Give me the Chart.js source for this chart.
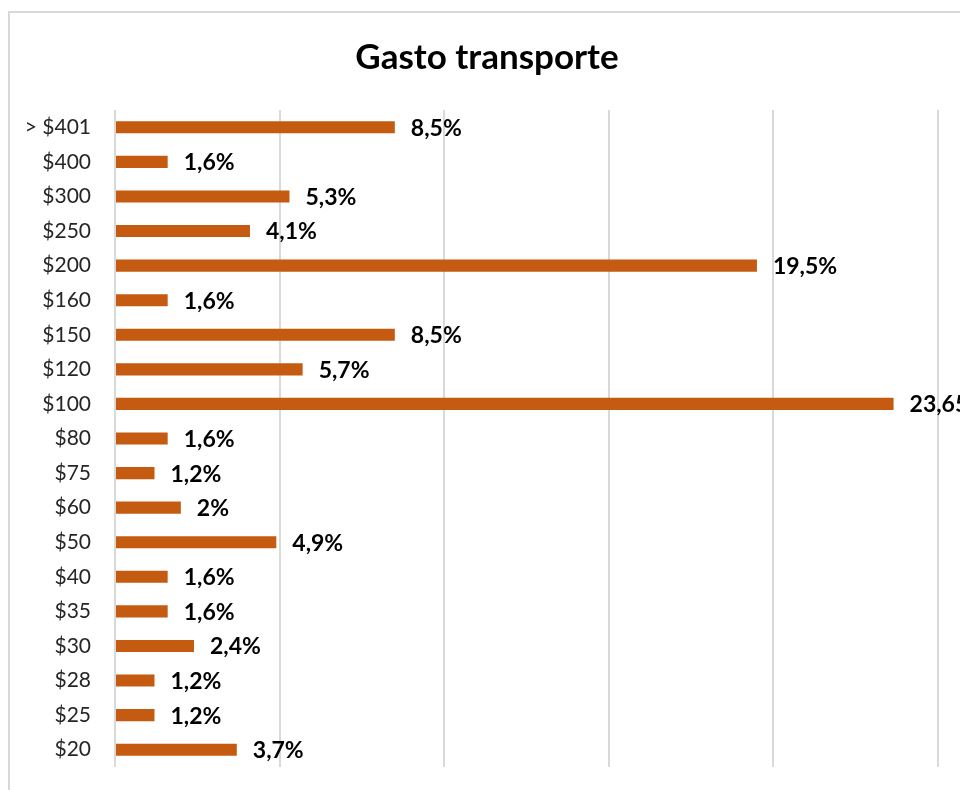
<!DOCTYPE html>
<html>
<head>
<meta charset="utf-8">
<script src="https://cdn.jsdelivr.net/npm/chart.js@4"></script>
<style>
  html, body { margin: 0; padding: 0; background: #fff; overflow: hidden; }
  canvas { display: block; }
</style>
</head>
<body>
<canvas id="myChart" width="960" height="790"></canvas>
<script>
// categories (top to bottom) and percentages
const rangos = ["> $401", "$400", "$300", "$250", "$200", "$160", "$150", "$120", "$100",
  "$80", "$75", "$60", "$50", "$40", "$35", "$30", "$28", "$25", "$20"];
const porcentajes = [8.5, 1.6, 5.3, 4.1, 19.5, 1.6, 8.5, 5.7, 23.65,
  1.6, 1.2, 2, 4.9, 1.6, 1.6, 2.4, 1.2, 1.2, 3.7];
const titulo = "Gasto transporte";

const fontFam = "Lato, 'Open Sans', sans-serif";

// chart frame and title like the Excel chart box
const frame = {
  id: "frame",
  beforeDraw(chart) {
    const ctx = chart.ctx;
    ctx.save();
    ctx.fillStyle = "#fff";
    ctx.fillRect(0, 0, chart.width, chart.height);
    ctx.strokeStyle = "#d9d9d9";
    ctx.lineWidth = 2;
    ctx.strokeRect(9, 12, 1000, 1000);
    ctx.font = "bold 35px " + fontFam;
    ctx.fillStyle = "#000";
    ctx.textAlign = "center";
    ctx.textBaseline = "alphabetic";
    ctx.fillText(titulo, 487, 69);
    ctx.restore();
  }
};

// value labels at the end of each bar
const barLabels = {
  id: "barLabels",
  afterDatasetsDraw(chart) {
    const ctx = chart.ctx;
    const meta = chart.getDatasetMeta(0);
    ctx.save();
    ctx.font = "bold 23px " + fontFam;
    ctx.fillStyle = "#000";
    ctx.textBaseline = "middle";
    ctx.textAlign = "left";
    meta.data.forEach((bar, i) => {
      const txt = String(porcentajes[i]).replace(".", ",") + "%";
      ctx.fillText(txt, bar.x + 16, bar.y + 1);
    });
    ctx.restore();
  }
};

new Chart(document.getElementById("myChart").getContext("2d"), {
  type: "bar",
  data: {
    labels: rangos,
    datasets: [{
      data: porcentajes,
      backgroundColor: "#C55A11",
      barPercentage: 0.35,
      categoryPercentage: 1
    }]
  },
  options: {
    indexAxis: "y",
    responsive: false,
    animation: false,
    layout: { padding: { left: 10, right: 22, top: 110, bottom: 23 } },
    plugins: {
      legend: { display: false },
      tooltip: { enabled: false },
      title: { display: false }
    },
    scales: {
      x: {
        min: 0,
        max: 25,
        afterFit(scale) { scale.height = 0; },
        ticks: { display: false, stepSize: 5 },
        grid: { color: "#d9d9d9", lineWidth: 2, drawTicks: false },
        border: { display: false }
      },
      y: {
        afterFit(scale) { scale.width = 105; scale.paddingTop = 0; scale.paddingBottom = 0; },
        ticks: { color: "#262626", padding: 24, font: { family: fontFam, size: 21 } },
        grid: { display: false, drawTicks: false },
        border: { display: false }
      }
    }
  },
  plugins: [frame, barLabels]
});
</script>
</body>
</html>
